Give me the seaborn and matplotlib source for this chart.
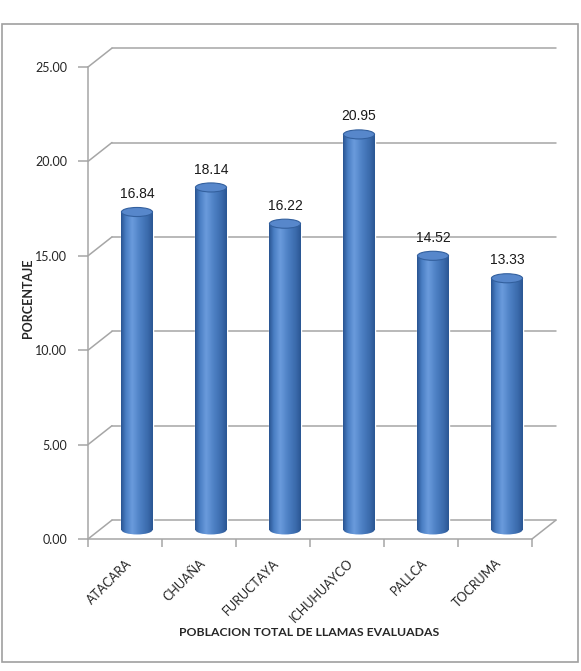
import matplotlib
matplotlib.use("Agg")
import numpy as np
import pandas as pd
import matplotlib.pyplot as plt
import seaborn as sns
from matplotlib.patches import Ellipse, Rectangle
from matplotlib.colors import LinearSegmentedColormap

comunidades = ["ATACARA", "CHUAÑA", "FURUCTAYA", "ICHUHUAYCO", "PALLCA", "TOCRUMA"]
porcentajes = [16.84, 18.14, 16.22, 20.95, 14.52, 13.33]
yticks = [0, 5, 10, 15, 20, 25]

sns.set_style("white")
plt.rcParams["font.family"] = ["Lato", "DejaVu Sans"]

W, H = 581, 671
fig = plt.figure(figsize=(W / 100, H / 100), dpi=100)
ax = fig.add_axes([88 / W, (H - 539) / H, (532 - 88) / W, (539 - 67) / H])

df = pd.DataFrame({"comunidad": comunidades, "pct": porcentajes})
sns.barplot(data=df, x="comunidad", y="pct", width=0.42, color="#4a7ebf",
            ax=ax, zorder=3, saturation=1)

# depth offsets (data units) for the 3d look
DX, DY = 0.324, 1.0     # back wall
MX, MY = 0.162, 0.48    # cylinders
EH = 0.48               # ellipse height
grid_c = "#a6a6a6"

for y in yticks:
    ax.plot([-0.5 + DX, 5.5 + DX], [y + DY, y + DY], color=grid_c, lw=1.1,
            clip_on=False, zorder=1)
    ax.plot([-0.5, -0.5 + DX], [y, y + DY], color=grid_c, lw=1.1,
            clip_on=False, zorder=1)
# floor
ax.plot([5.5, 5.5 + DX], [0, DY], color=grid_c, lw=1.1, clip_on=False, zorder=1)
ax.plot([-0.5, 5.5], [0, 0], color=grid_c, lw=1.1, clip_on=False, zorder=1)

cmap = LinearSegmentedColormap.from_list("cyl", [
    (0.0, "#2a5593"), (0.15, "#4a7fc4"), (0.35, "#6a9bdc"),
    (0.6, "#4d80c4"), (0.85, "#3a6aab"), (1.0, "#2b5794")])
grad = np.linspace(0, 1, 64).reshape(1, -1)

for p, val in zip(ax.patches, porcentajes):
    x0, w, h = p.get_x() + MX, p.get_width(), p.get_height()
    cx = x0 + w / 2
    p.set_x(x0)
    p.set_y(MY)
    p.set_clip_on(False)
    im = ax.imshow(grad, extent=(x0, x0 + w, MY, MY + h), aspect="auto",
                   cmap=cmap, zorder=4)
    im.set_clip_path(p)
    bot = Ellipse((cx, MY), w, EH, facecolor="none", edgecolor="none",
                  zorder=3, clip_on=False)
    ax.add_patch(bot)
    im2 = ax.imshow(grad, extent=(x0, x0 + w, MY - EH, MY + EH), aspect="auto",
                    cmap=cmap, zorder=3.5)
    im2.set_clip_path(bot)
    top = Ellipse((cx, MY + h), w, EH, facecolor="#5787cb", edgecolor="#33609e",
                  lw=0.8, zorder=5, clip_on=False)
    ax.add_patch(top)
    ax.text(cx, MY + h + 0.95, f"{val:.2f}", ha="center", va="center",
            fontsize=10, family="Liberation Sans", color="#1a1a1a", zorder=6)

ax.set_xlim(-0.5, 5.5)
ax.set_ylim(0, 25)
ax.set_yticks(yticks)
ax.set_yticklabels([f"{v:.2f}" for v in yticks], fontsize=9)
ax.set_xticks(range(len(comunidades)))
ax.set_xticklabels(comunidades, rotation=45, ha="right", rotation_mode="anchor",
                   fontsize=9)
ax.set_xticks(np.arange(-0.5, 6, 1), minor=True)
ax.tick_params(axis="x", which="major", length=0, pad=13)
ax.tick_params(axis="x", which="minor", length=6, color=grid_c, width=1.1,
               direction="out", bottom=True)
ax.tick_params(axis="y", length=7, color=grid_c, width=1.1, direction="out",
               left=True, pad=8)
ax.set_xlabel("")
ax.set_ylabel("")
for s in ["top", "right", "bottom"]:
    ax.spines[s].set_visible(False)
ax.spines["left"].set_color(grid_c)
ax.spines["left"].set_linewidth(1.1)
ax.set_facecolor("none")

fig.text(28 / W, 1 - 298 / H, "PORCENTAJE", rotation=90, ha="center",
         va="center", fontsize=9, fontweight="bold")
fig.text(309 / W, 1 - 632 / H, "POBLACION TOTAL DE LLAMAS EVALUADAS",
         ha="center", va="center", fontsize=8.8, fontweight="bold")
fig.add_artist(Rectangle((1.5 / W, (H - 662) / H), 576 / W, 638 / H,
                         transform=fig.transFigure, fill=False,
                         edgecolor="#a0a0a0", lw=1.2))

fig.savefig("out.png", dpi=100, facecolor="white")
